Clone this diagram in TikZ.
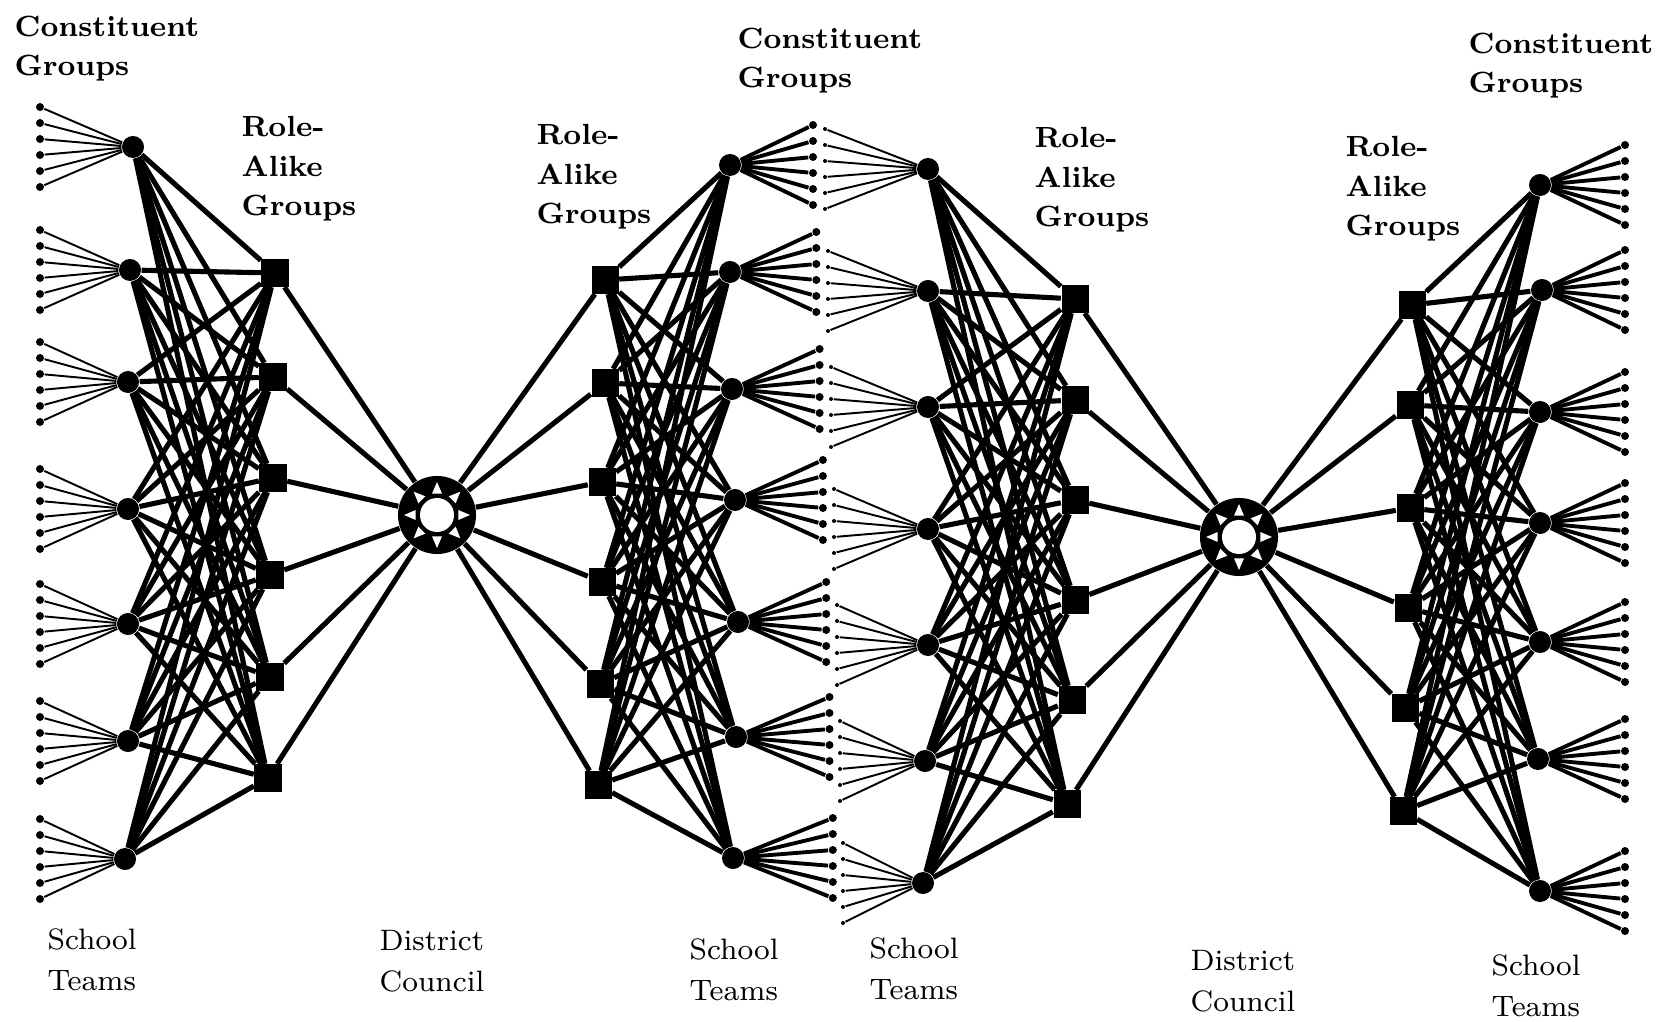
\documentclass[tikz,border=0pt]{standalone}
\begin{document}
\begin{tikzpicture}[x=0.01cm,y=-0.01cm,
  team/.style={circle,fill=black,inner sep=0pt,minimum size=0.22cm},
  rag/.style={rectangle,fill=black,inner sep=0pt,minimum size=0.27cm},
  cdot/.style={circle,fill=black,inner sep=0pt,minimum size=0.08cm},
  sdot/.style={circle,fill=black,inner sep=0pt,minimum size=0.04cm},
  council/.style={circle,fill=black,inner sep=0pt,minimum size=0.78cm},
  link/.style={line width=1.45pt},
  fanthin/.style={line width=0.55pt},
  fanthick/.style={line width=1.1pt},
  lbl/.style={font=\fontsize{8.3}{11.2}\selectfont\bfseries,align=left,anchor=north west,inner sep=0pt},
  lblr/.style={font=\fontsize{8.4}{11.6}\selectfont,align=left,anchor=north west,inner sep=0pt}]
\useasboundingbox (0,0) rectangle (1658,1022);

% ---------- Cluster A ----------
\foreach \n/\x/\y in {1/133/147,2/130/270,3/128/382,4/128/509,5/128/624,6/128/741,7/125/859}{
  \node[team] (tA\n) at (\x,\y) {};
  \foreach \k in {0,...,5}{
    \node[cdot] (fA\n-\k) at (40,{\y-40+16*\k}) {};
    \draw[fanthin] (tA\n) -- (fA\n-\k);
  }
}
\foreach \n/\x/\y in {1/275/273,2/273/377,3/273/478,4/270/575,5/270/677,6/268/778}
  \node[rag] (rA\n) at (\x,\y) {};
\node[council] (dcA) at (437,515) {};

% ---------- Cluster B ----------
\foreach \n/\x/\y in {1/730/165,2/730/272,3/732/389,4/735/500,5/738/622,6/736/737,7/733/858}{
  \node[team] (tB\n) at (\x,\y) {};
  \foreach \k in {0,...,5}{
    \node[cdot] (fB\n-\k) at ({813+3.3*(\n-1)},{\y-40+16*\k}) {};
    \draw[fanthick] (tB\n) -- (fB\n-\k);
  }
}
\foreach \n/\x/\y in {1/605/280,2/605/383,3/602/482,4/602/582,5/600/684,6/598/785}
  \node[rag] (rB\n) at (\x,\y) {};

% ---------- Cluster C ----------
\foreach \n/\x/\y in {1/928/169,2/928/291,3/928/407,4/928/529,5/928/645,6/925/761,7/923/883}{
  \node[team] (tC\n) at (\x,\y) {};
  \foreach \k in {0,...,5}{
    \node[sdot] (fC\n-\k) at ({825+3*(\n-1)},{\y-40+16*\k}) {};
    \draw[fanthin] (tC\n) -- (fC\n-\k);
  }
}
\foreach \n/\x/\y in {1/1075/299,2/1075/400,3/1075/500,4/1075/600,5/1072/700,6/1067/804}
  \node[rag] (rC\n) at (\x,\y) {};
\node[council] (dcC) at (1239,537) {};

% ---------- Cluster D ----------
\foreach \n/\x/\y in {1/1540/185,2/1542/290,3/1540/412,4/1540/523,5/1540/642,6/1538/759,7/1540/891}{
  \node[team] (tD\n) at (\x,\y) {};
  \foreach \k in {0,...,5}{
    \node[cdot] (fD\n-\k) at (1625,{\y-40+16*\k}) {};
    \draw[fanthick] (tD\n) -- (fD\n-\k);
  }
}
\foreach \n/\x/\y in {1/1412/305,2/1410/405,3/1410/508,4/1408/608,5/1405/708,6/1403/811}
  \node[rag] (rD\n) at (\x,\y) {};

% ---------- team <-> role-alike links ----------
\foreach \c in {A,B,C,D}{
  \foreach \i in {1,...,7}{
    \foreach \j in {1,...,6}{
      \draw[link] (t\c\i) -- (r\c\j);
    }
  }
}
% ---------- role-alike <-> council ----------
\foreach \j in {1,...,6}{
  \draw[link] (rA\j) -- (dcA);
  \draw[link] (rB\j) -- (dcA);
  \draw[link] (rC\j) -- (dcC);
  \draw[link] (rD\j) -- (dcC);
}

% ---------- council emblems ----------
\foreach \d in {dcA,dcC}{
  \begin{scope}[shift={(\d)}]
    \fill[white] (0,0) circle (17);
    \foreach \a in {0,45,...,315}
      \fill[white] (\a:33) -- (\a+13:22) -- (\a-13:22) -- cycle;
  \end{scope}
}

% ---------- labels ----------
\node[lbl] (cgA) at (14,15) {Constituent\\Groups};
\node[lbl] (raA) at (241,116) {Role-\\Alike\\Groups};
\node[lblr] (stA) at (47,928) {School\\Teams};
\node[lblr] (dcAl) at (379,930) {District\\Council};

\node[lbl] (raB) at (536,124) {Role-\\Alike\\Groups};
\node[lbl] (cgB) at (737,27) {Constituent\\Groups};
\node[lblr] (stB) at (689,938) {School\\Teams};

\node[lblr] (stC) at (869,937) {School\\Teams};
\node[lbl] (raC) at (1034,127) {Role-\\Alike\\Groups};
\node[lblr] (dcCl) at (1190,950) {District\\Council};

\node[lbl] (raD) at (1345,136) {Role-\\Alike\\Groups};
\node[lbl] (cgD) at (1468,32) {Constituent\\Groups};
\node[lblr] (stD) at (1491,954) {School\\Teams};
\end{tikzpicture}
\end{document}
